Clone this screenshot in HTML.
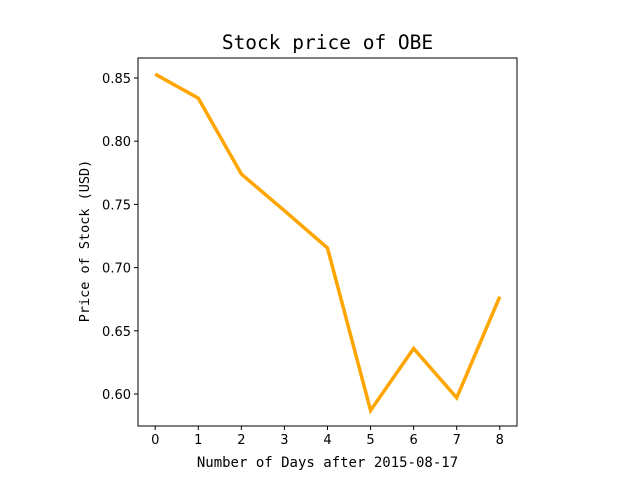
<!DOCTYPE html>
<html><head><meta charset="utf-8"><style>
html,body{margin:0;padding:0;background:#fff;}
svg{display:block;font-family:"DejaVu Sans Mono","Liberation Mono",monospace;}
.tick{font-family:"DejaVu Sans","Liberation Sans",sans-serif;}
</style></head><body>
<svg id="chart" width="640" height="480"></svg>
<script>
const days = [0,1,2,3,4,5,6,7,8];
const prices = [0.853,0.834,0.774,0.745,0.7155,0.587,0.636,0.597,0.677];
const yTicks = [0.60,0.65,0.70,0.75,0.80,0.85];
const xTicks = [0,1,2,3,4,5,6,7,8];

const L=138,R=517,T=58,B=426;
const yMin=0.5747,yMax=0.8658;
const xMin=-0.4,xMax=8.4;
const sx=v=>L+(v-xMin)/(xMax-xMin)*(R-L);
const sy=v=>B-(v-yMin)/(yMax-yMin)*(B-T);
const svg=document.getElementById('chart');
const NS='http://www.w3.org/2000/svg';
function mk(tag,attrs,parent){const e=document.createElementNS(NS,tag);for(const k in attrs)e.setAttribute(k,attrs[k]);(parent||svg).appendChild(e);return e;}

const title=mk('text',{x:(L+R)/2,y:49,'text-anchor':'middle','font-size':'19.5'});


title.textContent='Stock price of OBE';

const pts=days.map((d,i)=>sx(d)+','+sy(prices[i])).join(' ');
const line=mk('polyline',{points:pts,fill:'none',stroke:'#FFA500','stroke-width':'3.5','stroke-linejoin':'miter'});



const frame=mk('rect',{x:L,y:T,width:R-L,height:B-T,fill:'none',stroke:'#000','stroke-width':'1'});



xTicks.forEach(t=>{
  const x=sx(t);
  const tk=mk('line',{x1:x,x2:x,y1:B,y2:B+4,stroke:'#000'});
  
  
  const lb=mk('text',{x:x,y:B+18,'text-anchor':'middle','font-size':'13',class:'tick'});
  
  
  lb.textContent=t;
});
yTicks.forEach(t=>{
  const y=sy(t);
  const tk=mk('line',{x1:L-4,x2:L,y1:y,y2:y,stroke:'#000'});
  
  
  const lb=mk('text',{x:L-7,y:y+5,'text-anchor':'end','font-size':'13',class:'tick'});
  
  
  lb.textContent=t.toFixed(2);
});
const xl=mk('text',{x:(L+R)/2,y:467,'text-anchor':'middle','font-size':'14'});


xl.textContent='Number of Days after 2015-08-17';
const yl=mk('text',{x:0,y:0,'text-anchor':'middle','font-size':'13.5',transform:'translate(89,'+((T+B)/2-1)+') rotate(-90)'});


yl.textContent='Price of Stock (USD)';
</script>
</body></html>
